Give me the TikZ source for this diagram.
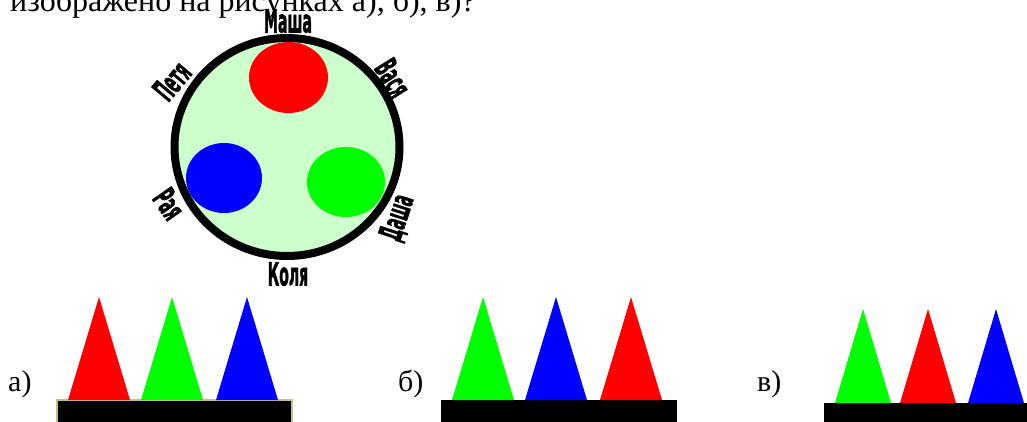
\documentclass[tikz,border=0pt]{standalone}
\usepackage{fontspec}
\setmainfont{Liberation Serif}
\newfontfamily\namefont{DejaVu Sans}[BoldFeatures={FakeBold=2}]
\newcommand{\narrow}[1]{\scalebox{0.44}[1]{#1}}
\definecolor{tablegreen}{HTML}{CCFFCC}
\definecolor{standedge}{HTML}{C8BE8C}

\begin{document}
\begin{tikzpicture}[x=1pt,y=-1pt,
    guest/.style={font=\namefont\bfseries\fontsize{32}{32}\selectfont,inner sep=0pt},
    caption/.style={font=\fontsize{30}{30}\selectfont,inner sep=0pt,anchor=base west},
    stand/.style={fill=black,draw=standedge,line width=1.5pt}]

\useasboundingbox (0,0) rectangle (1027,421);
\clip (0,0) rectangle (1027,421);

\node[caption,font=\fontsize{32}{32}\selectfont] (question) at (10,11) {изображено на рисунках а), б), в)?};

% round table
\filldraw[fill=tablegreen,draw=black,line width=8pt] (287,147) ellipse [x radius=112.5,y radius=109];
\fill[red] (288.5,77.5) ellipse [x radius=39.5,y radius=35.5];
\fill[blue] (224,178) ellipse [x radius=38,y radius=35];
\fill[green] (346,182) ellipse [x radius=39,y radius=35];

\node[guest] (masha) at (288,21) {\narrow{Маша}};
\node[guest,rotate=-58] (vasya) at (393,78) {\narrow{Вася}};
\node[guest,rotate=50] (petya) at (172,81) {\narrow{Петя}};
\node[guest,rotate=-55] (raya) at (169,204) {\narrow{Рая}};
\node[guest,rotate=72] (dasha) at (398,218) {\narrow{Даша}};
\node[guest] (kolya) at (288,274) {\narrow{Коля}};

% stands
\node[caption] (a) at (8,391) {а)};
\draw[stand] (57,400) rectangle (292,425);
\foreach \x/\c in {99/red,172/green,247/blue}
  \fill[\c] (\x-31,400) -- (\x,297) -- (\x+31,400) -- cycle;

\node[caption] (b) at (398,391) {б)};
\fill (441,400) rectangle (677,425);
\foreach \x/\c in {483/green,556/blue,631/red}
  \fill[\c] (\x-31,400) -- (\x,297) -- (\x+31,400) -- cycle;

\node[caption] (c) at (757,391) {в)};
\fill (824,403) rectangle (1030,425);
\foreach \x/\c in {863/green,928/red,996/blue}
  \fill[\c] (\x-28,403) -- (\x,309) -- (\x+28,403) -- cycle;

\end{tikzpicture}
\end{document}
